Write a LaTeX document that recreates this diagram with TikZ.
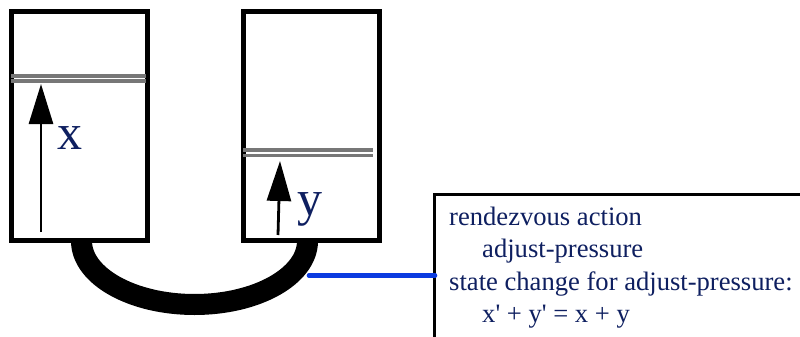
\documentclass[tikz,border=0pt]{standalone}
\usepackage{fontspec}
\setmainfont{Liberation Serif}
\newfontfamily\plainserif{Liberation Serif}
\usetikzlibrary{arrows.meta}
\definecolor{navy}{HTML}{0E1F60}
\definecolor{linkblue}{HTML}{0B3BE0}
\definecolor{pistongray}{HTML}{777777}
\tikzset{
  tank/.style={draw=black,line width=5pt,minimum width=136pt,minimum height=229pt,inner sep=0pt,outer sep=0pt,anchor=north west},
  pistonline/.style={draw=pistongray,line width=3.7pt},
  gauge/.style={line width=2.8pt,black,-{Triangle[length=40pt,width=24pt]}},
  varlabel/.style={text=navy,font=\plainserif\fontsize{50pt}{50pt}\selectfont,anchor=base west,inner sep=0pt},
  panelline/.style={text=navy,font=\plainserif\fontsize{26.6pt}{30pt}\selectfont,anchor=base west,inner sep=0pt},
}
\begin{document}
\begin{tikzpicture}[x=1pt,y=-1pt]
\useasboundingbox (0,0) rectangle (800,337);
\fill[white] (0,0) rectangle (800,337);
% tube
\draw[line width=21pt] (81.5,241) coordinate (tubeL) arc[start angle=180,end angle=0,x radius=113,y radius=63.5] coordinate (tubeR);
% tanks
\node[tank] (left) at (11.5,11.5) {};
\node[tank] (right) at (243.5,11.5) {};
% pistons
\coordinate (lp1) at (11,75.7); \coordinate (lp2) at (146,75.7);
\coordinate (lq1) at (11,81); \coordinate (lq2) at (146,81);
\draw[pistonline] (lp1) -- (lp2);
\draw[pistonline] (lq1) -- (lq2);
\coordinate (rp1) at (243,150.3); \coordinate (rp2) at (373,150.3);
\coordinate (rq1) at (243,155.4); \coordinate (rq2) at (373,155.4);
\draw[pistonline] (rp1) -- (rp2);
\draw[pistonline] (rq1) -- (rq2);
% gauges
\coordinate (g1s) at (41,232); \coordinate (g1e) at (41,84);
\coordinate (g2s) at (278,235); \coordinate (g2e) at (280,161);
\draw[gauge] (g1s) -- (g1e);
\draw[gauge] (g2s) -- (g2e);
\node[varlabel] (xlabel) at (57,149) {x};
\node[varlabel] (ylabel) at (297,215) {y};
% panel
\coordinate (pTR) at (801,194); \coordinate (pTL) at (434.5,194); \coordinate (pBL) at (434.5,338);
\draw[line width=3pt] (pTR) -- (pTL) -- (pBL);
\coordinate (linkA) at (309,275.5); \coordinate (linkB) at (435,275.5);
\draw[linkblue,line width=4.6pt,line cap=round] (linkA) -- (linkB);
\node[panelline] (t1) at (449,225) {rendezvous action};
\node[panelline] (t2) at (482,257) {adjust-pressure};
\node[panelline] (t3) at (449,290) {state change for adjust-pressure:};
\node[panelline] (t4) at (482,322) {x' + y' = x + y};
\end{tikzpicture}
\end{document}
